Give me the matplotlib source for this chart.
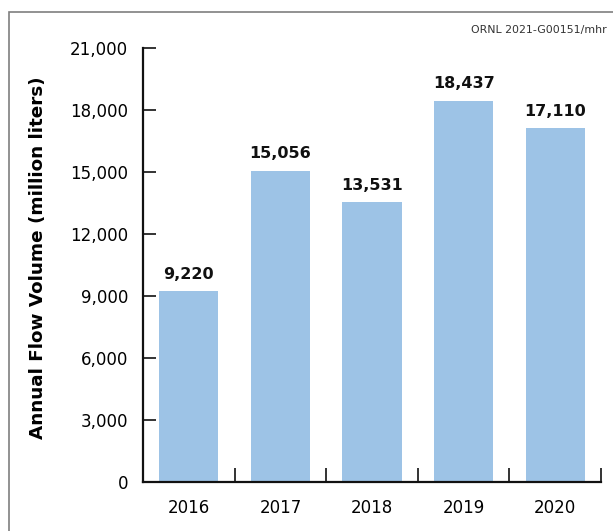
import matplotlib
matplotlib.use("Agg")
import matplotlib.pyplot as plt
from matplotlib.patches import Rectangle
from matplotlib.ticker import FuncFormatter, FixedLocator

years = ["2016", "2017", "2018", "2019", "2020"]
flow_volume = [9220, 15056, 13531, 18437, 17110]
y_ticks = [0, 3000, 6000, 9000, 12000, 15000, 18000, 21000]

plt.rcParams["font.family"] = ["DejaVu Sans"]

W, H = 613, 531
fig = plt.figure(figsize=(W / 100, H / 100), dpi=100)
ax = fig.add_axes([143 / W, 1 - 482 / H, (601 - 143) / W, (482 - 48) / H])

x = list(range(len(years)))
ax.bar(x, flow_volume, width=0.645, color="#9DC3E6", zorder=2)

for xi, v in zip(x, flow_volume):
    ax.annotate(f"{v:,}", (xi, v), xytext=(0, 7), textcoords="offset points",
                ha="center", va="bottom", fontsize=11.5, fontweight="bold",
                color="#111111")

ax.set_xlim(-0.5, len(years) - 0.5)
ax.set_ylim(0, 21000)
ax.set_yticks(y_ticks)
ax.yaxis.set_major_formatter(FuncFormatter(lambda v, p: f"{int(v):,}"))

# category labels centred, tick marks at category boundaries
ax.set_xticks(x)
ax.set_xticklabels(years)
ax.tick_params(axis="x", which="major", length=0, pad=12, labelsize=12)
ax.xaxis.set_minor_locator(FixedLocator([i + 0.5 for i in x]))
ax.tick_params(axis="x", which="minor", direction="in", length=10, width=1.2,
               color="#111111")
ax.tick_params(axis="y", direction="in", length=9.5, width=1.2, pad=10.8,
               labelsize=12, color="#111111")

for side in ("top", "right"):
    ax.spines[side].set_visible(False)
for side in ("left", "bottom"):
    ax.spines[side].set_linewidth(1.6)
    ax.spines[side].set_color("#111111")

ax.set_ylabel("Annual Flow Volume (million liters)", fontsize=13.2,
              fontweight="bold")
ax.yaxis.set_label_coords((38 - 143) / 458, (482 - 257.5) / 434)
ax.yaxis.label.set_va("center")

# outer frame line along the left and top edges
fig.patches.append(Rectangle((9 / W, -0.1), 1.2, 1 - 12 / H + 0.1,
                             transform=fig.transFigure, fill=False,
                             edgecolor="#7f7f7f", linewidth=1.2))

fig.text(607 / W, 1 - 30 / H, "ORNL 2021-G00151/mhr", ha="right",
         va="center", fontsize=7.9, color="#333333")

fig.savefig("out.png", dpi=100)
